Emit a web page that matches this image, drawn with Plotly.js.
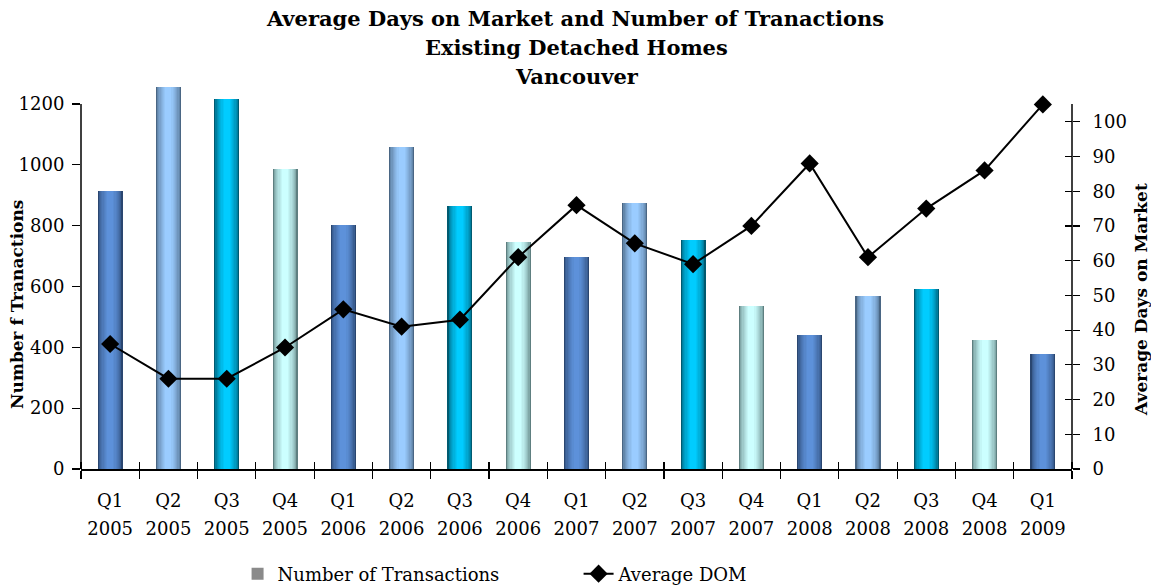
<!DOCTYPE html>
<html>
<head>
<meta charset="utf-8">
<script src="https://cdn.plot.ly/plotly-3.0.1.min.js"></script>
<style>html,body{margin:0;padding:0;background:#fff;}#chart{width:1151px;height:586px;}</style>
</head>
<body>
<div id="chart"></div>
<script>
// ---- data ----
const quarters = ['Q1','Q2','Q3','Q4','Q1','Q2','Q3','Q4','Q1','Q2','Q3','Q4','Q1','Q2','Q3','Q4','Q1'];
const years = ['2005','2005','2005','2005','2006','2006','2006','2006','2007','2007','2007','2007','2008','2008','2008','2008','2009'];
const transactions = [914,1257,1216,986,802,1060,865,746,697,875,753,536,441,569,592,424,378];
const avgDOM = [36,26,26,35,46,41,43,61,76,65,59,70,88,61,75,86,105];
const leftTicks = [0,200,400,600,800,1000,1200];
const rightTicks = [0,10,20,30,40,50,60,70,80,90,100];

// ---- styling ----
const FONT = 'DejaVu Serif, Liberation Serif, serif';
const idx = quarters.map((_, i) => i);
const bounds = idx.map(i => i - 0.5).concat([quarters.length - 0.5]);
const palettes = [
  ['#2a4670', '#5d91da'],
  ['#4a6684', '#9accff'],
  ['#005a70', '#00ccff'],
  ['#5e7f80', '#ccffff']
];
function hex2rgb(h){return [1,3,5].map(k=>parseInt(h.substr(k,2),16));}
function mix(a,b,t){const A=hex2rgb(a),B=hex2rgb(b);return 'rgb('+A.map((v,k)=>Math.round(v+(B[k]-v)*t)).join(',')+')';}

const BW = 0.43, N = 9;
const traces = [];
for (let k = 0; k < N; k++) {
  const f = k / (N - 1);
  const w = BW * (1 - k / (N + 1.5));
  traces.push({
    type: 'bar', x: idx, y: transactions, xaxis: 'x', yaxis: 'y',
    width: idx.map(() => w),
    marker: { color: idx.map(i => mix(palettes[i % 4][0], palettes[i % 4][1], Math.pow(f, 0.55))), line: { width: 0 } },
    showlegend: false, hoverinfo: 'skip'
  });
}
// legend entry for bars
traces.push({
  type: 'bar', x: idx, y: idx.map(() => null), xaxis: 'x', yaxis: 'y',
  name: 'Number of Transactions', marker: { color: '#8a8a8a' }, showlegend: true
});
// invisible carrier so the crossing tick axis (y3) is drawn
traces.push({
  type: 'scatter', mode: 'lines', x: idx, y: avgDOM, xaxis: 'x', yaxis: 'y3',
  line: { width: 0, color: 'rgba(0,0,0,0)' }, opacity: 0, showlegend: false, hoverinfo: 'skip'
});
traces.push({
  type: 'scatter', mode: 'lines+markers', x: idx, y: avgDOM, xaxis: 'x2', yaxis: 'y2',
  name: 'Average DOM', line: { color: '#000', width: 2 },
  marker: { symbol: 'diamond', size: 14, color: '#000' }, cliponaxis: false
});

const layout = {
  width: 1151, height: 586,
  margin: { l: 81, r: 79, t: 85, b: 117, autoexpand: false },
  paper_bgcolor: '#fff', plot_bgcolor: '#fff',
  font: { family: FONT, size: 18, color: '#000' },
  barmode: 'overlay', bargap: 0,
  title: {
    text: '<b>Average Days on Market and Number of Tranactions</b>',
    font: { family: FONT, size: 21, color: '#000' },
    x: 0.5, xref: 'container', y: 1, yanchor: 'top', pad: { t: 11 }
  },
  annotations: [
    { text: '<b>Existing Detached Homes</b>', xref: 'paper', yref: 'paper', x: 0.5, y: (469 - 47) / 384, xanchor: 'center', yanchor: 'middle', showarrow: false, font: { family: FONT, size: 21 } },
    { text: '<b>Vancouver</b>', xref: 'paper', yref: 'paper', x: 0.5, y: (469 - 76) / 384, xanchor: 'center', yanchor: 'middle', showarrow: false, font: { family: FONT, size: 21 } },
    { text: '<b>Number f Tranactions</b>', xref: 'paper', yref: 'paper', x: (17 - 81) / 991, y: (469 - 305) / 384, xanchor: 'center', yanchor: 'middle', textangle: -90, showarrow: false, font: { family: FONT, size: 17 } },
    { text: '<b>Average Days on Market</b>', xref: 'paper', yref: 'paper', x: (1141 - 81) / 991, y: (469 - 300) / 384, xanchor: 'center', yanchor: 'middle', textangle: -90, showarrow: false, font: { family: FONT, size: 17 } }
  ],
  xaxis: {
    range: [-0.5, quarters.length - 0.5], fixedrange: true,
    tickmode: 'array', tickvals: idx, ticktext: quarters, ticks: '',
    ticklabelstandoff: 15,
    showline: true, linecolor: '#000', linewidth: 1.5, showgrid: false, zeroline: false,
    minor: { tickmode: 'array', tickvals: bounds, ticks: 'outside', ticklen: 8, tickcolor: '#000', tickwidth: 1.2, showgrid: false }
  },
  xaxis2: {
    overlaying: 'x', anchor: 'y', side: 'bottom',
    range: [-0.5, quarters.length - 0.5], fixedrange: true,
    tickmode: 'array', tickvals: idx, ticktext: years, ticks: '',
    ticklabelstandoff: 47,
    showline: false, showgrid: false, zeroline: false,
    minor: { tickmode: 'array', tickvals: bounds, ticks: 'inside', ticklen: 7, tickcolor: '#000', tickwidth: 1.2, showgrid: false }
  },
  yaxis: {
    range: [0, 1262.5], fixedrange: true,
    tickmode: 'array', tickvals: leftTicks, ticks: 'outside', ticklen: 8, tickcolor: '#000', tickwidth: 1.2,
    ticklabelstandoff: 4,
    showline: false, showgrid: false, zeroline: false
  },
  yaxis2: {
    overlaying: 'y', side: 'right', anchor: 'x2',
    range: [0, 110.6], fixedrange: true,
    tickmode: 'array', tickvals: rightTicks, ticks: 'outside', ticklen: 7, tickcolor: '#000', tickwidth: 1.2,
    ticklabelstandoff: 9,
    showline: false, showgrid: false, zeroline: false
  },
  yaxis3: {
    overlaying: 'y', side: 'right', anchor: 'x',
    range: [0, 110.6], fixedrange: true,
    tickmode: 'array', tickvals: rightTicks, ticks: 'inside', ticklen: 7, tickcolor: '#000', tickwidth: 1.2,
    showticklabels: false, showline: false, showgrid: false, zeroline: false
  },
  shapes: [
    { type: 'line', xref: 'paper', yref: 'y', x0: 0, x1: 0, y0: 0, y1: 1200, line: { color: '#000', width: 1.5 } },
    { type: 'line', xref: 'paper', yref: 'y', x0: 1, x1: 1, y0: 0, y1: 1200, line: { color: '#000', width: 1.5 } }
  ],
  showlegend: true,
  legend: {
    orientation: 'h', x: 0.158, xanchor: 'left', y: (469 - 574) / 384, yanchor: 'middle',
    font: { family: FONT, size: 18, color: '#000' }, entrywidth: 296, traceorder: 'normal'
  }
};

Plotly.newPlot('chart', traces, layout, { displayModeBar: false, staticPlot: true });
</script>
</body>
</html>
